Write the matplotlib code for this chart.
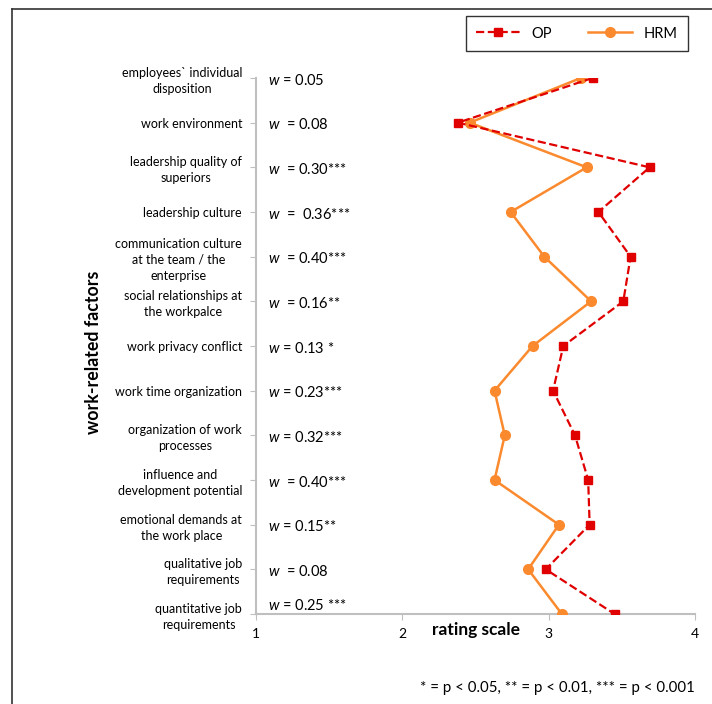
import numpy as np
import matplotlib.pyplot as plt
from matplotlib.lines import Line2D

plt.rcParams['font.family'] = ['Lato', 'DejaVu Sans']
plt.rcParams['mathtext.fontset'] = 'custom'
plt.rcParams['mathtext.it'] = 'Lato:italic'
plt.rcParams['mathtext.rm'] = 'Lato'

# work-related factors, top to bottom
factors = [
    "employees` individual\ndisposition",
    "work environment",
    "leadership quality of\nsuperiors",
    "leadership culture",
    "communication culture\nat the team / the\nenterprise",
    "social relationships at\nthe workpalce",
    "work privacy conflict",
    "work time organization",
    "organization of work\nprocesses",
    "influence and\ndevelopment potential",
    "emotional demands at\nthe work place",
    "qualitative job\nrequirements",
    "quantitative job\nrequirements",
]

# mean ratings
op_values = [3.30, 2.38, 3.69, 3.34, 3.56, 3.51, 3.10, 3.03, 3.18, 3.27, 3.28, 2.98, 3.45]
hrm_values = [3.22, 2.46, 3.26, 2.74, 2.97, 3.29, 2.89, 2.63, 2.70, 2.63, 3.07, 2.86, 3.09]

# effect sizes with significance stars
w_labels = ["= 0.05", " = 0.08", " = 0.30***", " =  0.36***", " = 0.40***", " = 0.16**",
            "= 0.13 *", "= 0.23***", "= 0.32***", " = 0.40***", "= 0.15**", " = 0.08",
            "= 0.25 ***"]

OP_COLOR = '#e00000'
HRM_COLOR = '#fb8a2e'
GREY = '#bfbfbf'

fig = plt.figure(figsize=(7.12, 7.04), dpi=100)
ax = fig.add_axes([256 / 712, 1 - 614 / 704, (695 - 256) / 712, (614 - 78) / 704])

y = np.arange(len(factors))
ax.plot(op_values, y, linestyle='--', color=OP_COLOR, linewidth=1.6,
        marker='s', markersize=6, label='OP', zorder=3)
ax.plot(hrm_values, y, linestyle='-', color=HRM_COLOR, linewidth=1.8,
        marker='o', markersize=7, label='HRM', zorder=2)

ax.set_xlim(1, 4)
ax.set_ylim(len(factors) - 1, 0)
ax.set_xticks([1, 2, 3, 4])
ax.set_yticks(y)
ax.set_yticklabels(factors, fontsize=9, ha='right', multialignment='center',
                   linespacing=1.4)
ax.tick_params(axis='y', direction='out', length=4, color=GREY, pad=6)
ax.tick_params(axis='x', direction='out', length=4, color=GREY, labelsize=10, pad=6)
for side in ['top', 'right']:
    ax.spines[side].set_visible(False)
for side in ['left', 'bottom']:
    ax.spines[side].set_color(GREY)
    ax.spines[side].set_linewidth(1.5)
ax.spines['bottom'].set_zorder(1)

for i, w in enumerate(w_labels):
    dy = -0.18 if i == len(w_labels) - 1 else 0.05
    ax.text(0.027, i + dy, '$w$ ' + w, transform=ax.get_yaxis_transform(),
            fontsize=10.5, ha='left', va='center')

ax.text(0.5, -0.03, 'rating scale', transform=ax.transAxes, fontsize=12.5,
        fontweight='bold', ha='center', va='center')
fig.text(93 / 712, 1 - 352 / 704, 'work-related factors', rotation=90,
         fontsize=12.8, fontweight='bold', ha='center', va='center')
fig.text(695 / 712, 1 - 688 / 704, '* = p < 0.05, ** = p < 0.01, *** = p < 0.001',
         fontsize=10.8, ha='right', va='center')

handles = [Line2D([], [], linestyle='--', color=OP_COLOR, marker='s', markersize=6, linewidth=1.6),
           Line2D([], [], linestyle='-', color=HRM_COLOR, marker='o', markersize=7, linewidth=1.8)]
leg = fig.legend(handles, ['OP', 'HRM'], ncol=2, loc='center',
                 bbox_to_anchor=(577 / 712, 1 - 33.5 / 704), fontsize=10.5,
                 frameon=True, fancybox=False, edgecolor='black', handlelength=3,
                 columnspacing=2.5, borderpad=0.7)
leg.get_frame().set_linewidth(1.0)

# outer frame (top and left edges)
fig.add_artist(Line2D([12 / 712, 12 / 712], [0, 1 - 9 / 704], color='#333333', linewidth=1.2))
fig.add_artist(Line2D([12 / 712, 1], [1 - 9 / 704, 1 - 9 / 704], color='#333333', linewidth=1.2))

fig.savefig('out.png', dpi=100)
